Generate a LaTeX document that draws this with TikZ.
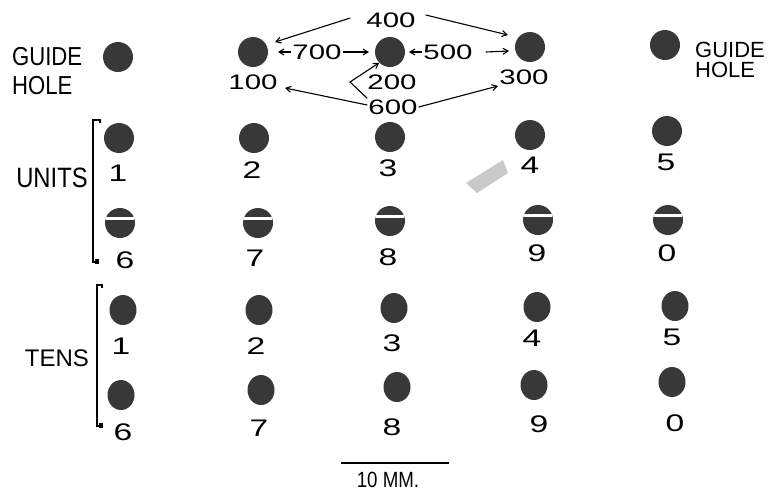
\documentclass[tikz,border=0pt]{standalone}
\usepackage{fontspec}
\setmainfont{Liberation Sans}
\newfontfamily\digf[FakeStretch=1.4]{Liberation Sans}
\newfontfamily\wordf[FakeStretch=0.85]{Liberation Sans}
\usetikzlibrary{arrows.meta,shapes.geometric}
\definecolor{holegray}{gray}{0.22}
\tikzset{
  hole/.style={circle, fill=holegray, minimum size=30pt, inner sep=0pt},
  thole/.style={ellipse, fill=holegray, minimum width=27pt, minimum height=30pt, inner sep=0pt},
  shole/.style={hole, path picture={\fill[white] ([yshift=3.5pt]path picture bounding box.west) rectangle ([yshift=5.8pt]path picture bounding box.east);}},
  dlab/.style={font=\digf\fontsize{24}{24}\selectfont, inner sep=0pt},
  num/.style={font=\digf\fontsize{21}{21}\selectfont, inner sep=1pt},
  arr/.style={-{Straight Barb[length=5pt,width=6pt]}, line width=1.1pt},
  brk/.style={line width=2.2pt},
}
\begin{document}
\begin{tikzpicture}[x=1pt,y=-1pt]
\useasboundingbox (0,0) rectangle (771,491);

% guide holes and labels
\node[hole] (gl) at (118,57) {};
\node[hole] (gr) at (665,45) {};
\node[font=\wordf\fontsize{26}{29}\selectfont, align=left, anchor=west, inner sep=0pt] (gltext) at (12,71.5) {GUIDE\\HOLE};
\node[font=\fontsize{22}{20}\selectfont, align=left, anchor=west, inner sep=0pt] (grtext) at (695,60) {GUIDE\\HOLE};

% top code holes
\node[hole] (h100) at (253,52) {};
\node[hole] (h200) at (390,52) {};
\node[hole] (h300) at (530,47) {};

\node[num] (n400) at (391,20) {400};
\node[num] (n700) at (317,52) {700};
\node[num] (n500) at (448,52) {500};
\node[num] (n100) at (253,82) {100};
\node[num] (n200) at (392,82) {200};
\node[num] (n300) at (524,77) {300};
\node[num] (n600) at (393,107) {600};

\coordinate (a1) at (275,42);
\coordinate (a2) at (508,35);
\coordinate (a3) at (278,52);
\coordinate (a4) at (369,52);
\coordinate (a5) at (409,52);
\coordinate (a6) at (509,51);
\coordinate (a7) at (285,88);
\coordinate (a8) at (498,86);
\coordinate (a9) at (350,82);

\draw[arr] ([shift={(-15pt,2pt)}]n400.west) -- (a1);
\draw[arr] ([shift={(9pt,5pt)}]n400.east) -- (a2);
\draw[arr] (n700.west) -- (a3);
\draw[arr] (n700.east) -- (a4);
\draw[arr] (n500.west) -- (a5);
\draw[arr] ([xshift=12pt]n500.east) -- (a6);
\draw[arr] ([yshift=2pt]n600.west) -- (a7);
\draw[arr] (n600.east) -- (a8);
\draw[arr] (n600.north west) -- (a9) -- (h200.south west);

% units
\foreach \nm/\cx/\cy/\lx/\ly/\t in {u1/119/138/118/173/1, u2/254/138/252/170/2, u3/390/137/388/168/3, u4/530/135/530/165/4, u5/667/131/666/162/5}{
  \node[hole] (\nm) at (\cx,\cy) {};
  \node[dlab] (\nm-l) at (\lx,\ly) {\t};
}
\foreach \nm/\cx/\cy/\lx/\ly/\t in {u6/120/223/125/260/6, u7/258/223/255/258/7, u8/390/221/388/257/8, u9/538/220/537/253/9, u0/668/220/667/253/0}{
  \node[shole] (\nm) at (\cx,\cy) {};
  \node[dlab] (\nm-l) at (\lx,\ly) {\t};
}
% tens
\foreach \nm/\cx/\cy/\lx/\ly/\t in {t1/123/310/121/346/1, t2/259/310/256/346/2, t3/394/308/392/343/3, t4/537/307/532/338/4, t5/675/306/672/337/5,
  t6/121/395/123/432/6, t7/261/390/259/428/7, t8/397/387/392/427/8, t9/534/385/539/424/9, t0/672/382/675/423/0}{
  \node[thole] (\nm) at (\cx,\cy) {};
  \node[dlab] (\nm-l) at (\lx,\ly) {\t};
}

% brackets
\node[font=\wordf\fontsize{28}{28}\selectfont, inner sep=0pt] (units) at (52,178) {UNITS};
\draw[brk] (100,123) -- (100,120) -- (93,120) -- (93,262) -- (97,262);
\fill (95,259) rectangle (99,264);
\node[font=\fontsize{24}{24}\selectfont, inner sep=0pt] (tens) at (57,358) {TENS};
\draw[brk] (102,288) -- (102,285) -- (97,285) -- (97,426) -- (101,426);
\fill (99,423) rectangle (103,428);

% smudge
\fill[gray!42] (466,183) -- (477,193) -- (508,173) -- (503,160) -- cycle;

% scale bar
\draw[line width=2pt] (341,463) -- (449,463);
\node[font=\wordf\fontsize{22}{22}\selectfont, inner sep=0pt] (scale) at (388,480) {10 MM.};
\end{tikzpicture}
\end{document}
